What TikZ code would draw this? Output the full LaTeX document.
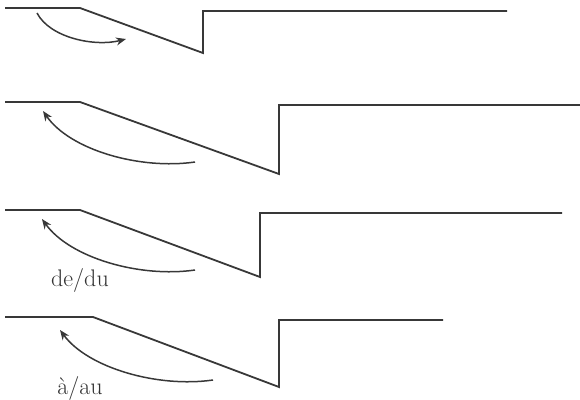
\documentclass[tikz,border=0pt]{standalone}
\usetikzlibrary{arrows.meta}
\begin{document}
\begin{tikzpicture}[x=1pt,y=-1pt,
  profile/.style={line width=1.8pt, draw=black!78, line join=miter},
  move/.style={line width=1.5pt, draw=black!78, -{Stealth[length=10pt,width=8pt]}},
  lbl/.style={font=\fontsize{24}{26}\selectfont, text=black!80, inner sep=0pt, anchor=base}]
\useasboundingbox (0,0) rectangle (580,399);
% profile 1
\coordinate (a1) at (5,8);   \coordinate (b1) at (80,8);
\coordinate (c1) at (203,53); \coordinate (d1) at (203,11);
\coordinate (e1) at (507,11);
\draw[profile] (a1) -- (b1) -- (c1) -- (d1) -- (e1);
\coordinate (s1) at (37,13); \coordinate (t1) at (126,39);
\draw[move] (s1) .. controls (50,38) and (95,47) .. (t1);
% profile 2
\coordinate (a2) at (5,102);  \coordinate (b2) at (80,102);
\coordinate (c2) at (279,174); \coordinate (d2) at (279,105);
\coordinate (e2) at (580,105);
\draw[profile] (a2) -- (b2) -- (c2) -- (d2) -- (e2);
\coordinate (s2) at (195,162); \coordinate (t2) at (43,111);
\draw[move] (s2) .. controls (140,170) and (70,150) .. (t2);
% profile 3
\coordinate (a3) at (5,210);  \coordinate (b3) at (80,210);
\coordinate (c3) at (260,277); \coordinate (d3) at (260,213);
\coordinate (e3) at (562,213);
\draw[profile] (a3) -- (b3) -- (c3) -- (d3) -- (e3);
\coordinate (s3) at (195,270); \coordinate (t3) at (42,219);
\draw[move] (s3) .. controls (140,278) and (70,258) .. (t3);
\node[lbl] (l3) at (80,286) {de/du};
% profile 4
\coordinate (a4) at (5,317);  \coordinate (b4) at (93,317);
\coordinate (c4) at (279,387); \coordinate (d4) at (279,320);
\coordinate (e4) at (443,320);
\draw[profile] (a4) -- (b4) -- (c4) -- (d4) -- (e4);
\coordinate (s4) at (213,380); \coordinate (t4) at (60,330);
\draw[move] (s4) .. controls (158,388) and (88,368) .. (t4);
\node[lbl] (l4) at (80,394) {à/au};
\end{tikzpicture}
\end{document}
